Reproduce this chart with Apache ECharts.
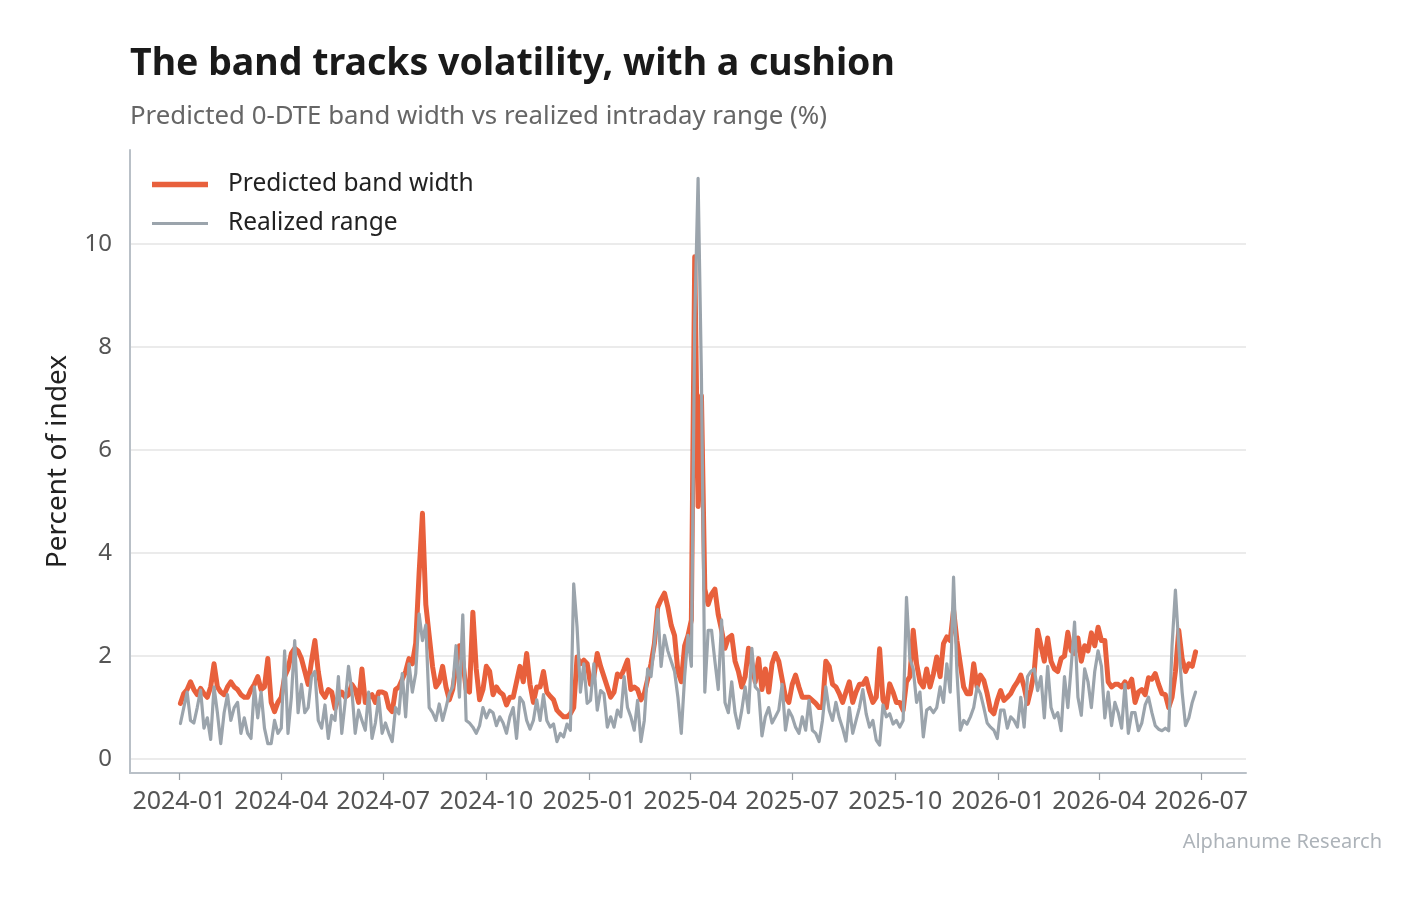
<!DOCTYPE html>
<html>
<head>
<meta charset="utf-8">
<title>Band width vs realized range</title>
<script src="https://cdn.jsdelivr.net/npm/echarts@6/dist/echarts.min.js"></script>
<style>
  html, body { margin: 0; background: #fff; }
  #chart { width: 1427px; height: 898px; }
</style>
</head>
<body>
<div id="chart"></div>
<script>
  // one reading every 3 calendar days, from the first session of 2024
  const startDate = "2024-01-02";
  const stepDays = 3;

  // predicted 0-DTE band width, % of index
  const predicted = [
    1.08, 1.27, 1.35, 1.5, 1.35, 1.25, 1.37, 1.27, 1.2, 1.4,
    1.85, 1.4, 1.3, 1.25, 1.4, 1.5, 1.4, 1.35, 1.25, 1.2,
    1.2, 1.35, 1.45, 1.6, 1.35, 1.4, 1.95, 1.1, 0.92, 1.1,
    1.2, 1.6, 1.75, 2.05, 2.15, 2.1, 1.95, 1.7, 1.45, 1.9,
    2.3, 1.7, 1.3, 1.2, 1.35, 1.3, 0.98, 1.2, 1.3, 1.2,
    1.25,
    1.45, 1.35, 1.1, 1.75, 1.1, 1.2, 1.25, 1.1, 1.3, 1.3,
    1.27, 1.0, 0.92, 1.35, 1.4, 1.55, 1.7, 1.95, 1.85, 2.25,
    3.6, 4.77, 3.0, 2.4, 1.8, 1.4, 1.5, 1.8, 1.4, 1.15,
    1.35, 1.8, 2.2, 1.9, 1.35, 1.3, 2.85, 1.75, 1.15, 1.35,
    1.8, 1.7, 1.25, 1.4, 1.3, 1.25, 1.05, 1.2, 1.2, 1.5,
    1.8, 1.5, 2.05, 1.45, 1.1, 1.4, 1.4, 1.7, 1.3, 1.22,
    1.15, 0.95, 0.88, 0.82, 0.82, 0.88, 1.0, 1.98, 1.85, 1.92,
    1.85, 1.45, 1.6, 2.05, 1.8, 1.6, 1.4, 1.2, 1.3, 1.65,
    1.6, 1.75, 1.92, 1.35, 1.4, 1.35, 1.15, 1.27, 1.55, 1.85,
    2.24, 2.95, 3.1, 3.22, 2.95, 2.6, 2.4, 1.7, 1.5, 2.2,
    2.4,
    2.7, 9.75, 4.9, 7.05, 3.3, 3.0, 3.2, 3.3, 2.8, 2.5,
    2.15, 2.35, 2.4, 1.9, 1.7, 1.4, 1.6, 2.15, 1.85, 1.5,
    1.95, 1.35, 1.75, 1.3, 1.85, 2.05, 1.9, 1.55, 1.2, 1.1,
    1.45, 1.63, 1.4, 1.2, 1.2, 1.2, 1.14, 1.08, 1.0, 1.0,
    1.9, 1.8, 1.45, 1.4, 1.27, 1.1, 1.3, 1.5, 1.1, 1.3,
    1.45,
    1.45, 1.56, 1.3, 1.1, 1.2, 2.14, 1.15, 1.0, 1.46, 1.3,
    1.1, 1.1, 0.95, 1.5, 1.6, 2.5, 1.85, 1.5, 1.4, 1.75,
    1.4, 1.65, 1.98, 1.6, 2.24, 2.37, 2.3, 2.9, 2.3, 1.85,
    1.4, 1.27, 1.27, 1.85, 1.4, 1.63, 1.53, 1.27, 0.95, 0.88,
    1.14, 1.33, 1.14, 1.2, 1.27, 1.4, 1.5, 1.63, 1.4, 1.08,
    1.35, 1.7, 2.5, 2.2, 1.9, 2.35, 1.9, 1.75, 1.7, 1.95,
    2.0, 2.46, 2.1, 2.05, 2.35, 1.9, 2.2, 2.1, 2.45, 2.2,
    2.56, 2.3, 2.3, 1.5, 1.4, 1.45, 1.45, 1.4, 1.5, 1.4,
    1.55, 1.1, 1.3, 1.35, 1.25, 1.58, 1.55, 1.66, 1.45, 1.27,
    1.25, 1.0, 1.2, 1.7, 2.5, 1.95, 1.7, 1.85, 1.8, 2.08
  ];

  // realized intraday range, % of index
  const realized = [
    0.69, 1.0, 1.3, 0.75, 0.7, 1.0, 1.34, 0.6, 0.8, 0.38,
    1.4, 0.9, 0.3, 0.9, 1.25, 0.75, 1.0, 1.1, 0.5, 0.8,
    0.5, 0.4, 1.4, 0.8, 1.3, 0.6, 0.3, 0.3, 0.75, 0.5,
    0.6, 2.1, 0.5, 1.2, 2.3, 0.9, 1.45, 0.9, 1.0, 1.6,
    1.7, 0.75, 0.6, 1.05, 0.4, 0.85, 0.75, 1.6, 0.5, 1.1,
    1.8,
    1.33, 0.5, 0.95, 0.75, 0.56, 1.3, 0.4, 0.7, 1.2, 0.5,
    0.7, 0.5, 0.34, 1.0, 0.88, 1.66, 0.82, 1.85, 1.3, 1.66,
    2.82, 2.3, 2.6, 1.0, 0.9, 0.75, 1.07, 0.75, 1.0, 1.27,
    1.4, 2.2, 1.2, 2.8, 0.75, 0.7, 0.62, 0.5, 0.65, 1.0,
    0.8, 0.95, 0.9, 0.65, 0.82, 0.7, 0.5, 0.82, 1.0, 0.4,
    1.2, 1.1, 0.75, 0.58, 0.75, 1.15, 0.75, 1.25, 0.75, 0.62,
    0.68, 0.34, 0.5, 0.43, 0.68, 0.56, 3.4, 2.56, 1.3, 1.85,
    1.08, 1.14, 1.85, 0.95, 1.33, 1.27, 0.62, 0.82, 0.62, 0.95,
    0.82, 1.6, 1.0, 0.82, 0.56, 1.14, 0.34, 0.75, 1.75, 1.6,
    2.24, 2.9, 1.8, 2.4, 2.1, 1.9, 1.7, 1.2, 0.5, 1.6,
    2.4,
    1.8, 8.47, 11.27, 7.4, 1.3, 2.5, 2.5, 1.9, 1.35, 2.7,
    1.1, 0.9, 1.5, 0.9, 0.6, 0.95, 1.4, 0.9, 2.15, 1.4,
    1.33, 0.45, 0.82, 1.0, 0.7, 0.82, 0.95, 1.45, 0.56, 0.95,
    0.82, 0.62, 0.5, 0.82, 0.56, 1.14, 0.56, 0.5, 0.34, 0.75,
    1.4, 0.95, 0.75, 1.1, 0.8, 0.6, 0.35, 1.0, 0.5, 0.75,
    1.0,
    1.35, 0.88, 0.62, 0.75, 0.37, 0.27, 1.05, 0.82, 0.88, 0.68,
    0.75, 0.62, 0.75, 3.14, 1.95, 1.75, 1.1, 1.3, 0.43, 0.95,
    1.0, 0.9, 1.0, 1.4, 1.1, 1.85, 1.3, 3.53, 1.7, 0.56,
    0.75, 0.68, 0.82, 1.0, 1.4, 1.27, 1.0, 0.7, 0.62, 0.56,
    0.4, 0.95, 0.95, 0.6, 0.82, 0.75, 0.62, 1.2, 0.62, 1.6,
    1.7, 1.75, 1.33, 1.6, 0.8, 1.8, 1.0, 0.8, 0.9, 0.55,
    1.6, 1.0, 1.8, 2.66, 1.2, 0.85, 1.75, 1.5, 1.0, 1.7,
    2.1, 1.8, 0.8, 1.3, 0.65, 1.1, 0.9, 0.6, 1.45, 0.5,
    0.9, 0.9, 0.55, 0.7, 1.05, 1.2, 0.9, 0.65, 0.58, 0.55,
    0.6, 0.55, 2.2, 3.28, 2.2, 1.3, 0.65, 0.8, 1.1, 1.3
  ];

  const xTickLabels = [
    "2024-01", "2024-04", "2024-07", "2024-10", "2025-01", "2025-04",
    "2025-07", "2025-10", "2026-01", "2026-04", "2026-07"
  ];
  const yTicks = [0, 2, 4, 6, 8, 10];

  const DAY = 86400000;
  const font = "Noto Sans";
  const t0 = Date.parse(startDate + "T00:00:00Z");
  const dates = predicted.map((_, i) => t0 + i * stepDays * DAY);
  // x is a plain value axis in UTC milliseconds, so ticks can sit on month starts
  const xTicks = xTickLabels.map((s) => Date.parse(s + "-01T00:00:00Z"));
  const pad2 = (n) => (n < 10 ? "0" + n : "" + n);

  const chart = echarts.init(document.getElementById("chart"));

  const option = {
    animation: false,
    backgroundColor: "#ffffff",
    title: {
      text: "The band tracks volatility, with a cushion",
      subtext: "Predicted 0-DTE band width vs realized intraday range (%)",
      left: 125,
      top: 40,
      itemGap: 21,
      textStyle: {
        fontFamily: font,
        fontSize: 37.5,
        fontWeight: "bold",
        color: "#1a1a1a",
      },
      subtextStyle: {
        fontFamily: font,
        fontSize: 25.8,
        color: "#666666",
      },
    },
    legend: {
      orient: "vertical",
      left: 147,
      top: 167,
      itemWidth: 56,
      itemHeight: 14,
      itemGap: 14,
      textStyle: {
        fontFamily: font,
        fontSize: 24.5,
        color: "#222222",
        padding: [0, 0, 0, 15],
      },
      data: [
        { name: "Predicted band width", icon: "path://M0,0 L56,0 L56,5.5 L0,5.5 Z" },
        { name: "Realized range", icon: "path://M0,0 L56,0 L56,3.2 L0,3.2 Z" },
      ],
    },
    grid: {
      left: 130,
      right: 181,
      top: 150,
      bottom: 125,
    },
    xAxis: {
      type: "value",
      min: Date.parse("2023-11-18T00:00:00Z"),
      max: Date.parse("2026-08-10T00:00:00Z"),
      axisLine: { onZero: false, lineStyle: { color: "#b9c0c7", width: 2 } },
      axisTick: {
        show: true,
        length: 7,
        customValues: xTicks,
        lineStyle: { color: "#9aa0a6", width: 1.2 },
      },
      axisLabel: {
        customValues: xTicks,
        margin: 16,
        fontFamily: font,
        fontSize: 25,
        color: "#555555",
        formatter: (v) => {
          const d = new Date(v);
          return d.getUTCFullYear() + "-" + pad2(d.getUTCMonth() + 1);
        },
      },
      splitLine: { show: false },
    },
    yAxis: {
      type: "value",
      min: -0.27,
      max: 11.82,
      name: "Percent of index",
      nameLocation: "middle",
      nameGap: 58,
      nameTextStyle: { fontFamily: font, fontSize: 28, color: "#222222" },
      axisLine: { show: true, onZero: false, lineStyle: { color: "#b9c0c7", width: 2 } },
      axisTick: { show: false, customValues: yTicks },
      axisLabel: {
        customValues: yTicks,
        margin: 18,
        fontFamily: font,
        fontSize: 24,
        color: "#555555",
      },
      splitLine: { show: true, lineStyle: { color: "#e4e4e4", width: 1.5 } },
    },
    series: [
      {
        name: "Predicted band width",
        type: "line",
        data: dates.map((t, i) => [t, predicted[i]]),
        symbol: "none",
        sampling: false,
        z: 2,
        color: "#e8603c",
        lineStyle: { width: 5, color: "#e8603c", join: "round", cap: "round" },
      },
      {
        name: "Realized range",
        type: "line",
        data: dates.map((t, i) => [t, realized[i]]),
        symbol: "none",
        sampling: false,
        z: 3,
        color: "#9ba4ac",
        lineStyle: { width: 3.2, color: "#9ba4ac", join: "round", cap: "round" },
      },
    ],
    graphic: [
      {
        type: "text",
        right: 45,
        top: 832,
        style: {
          text: "Alphanume Research",
          fontFamily: font,
          fontSize: 20,
          fill: "#adb3b9",
        },
      },
    ],
  };

  chart.setOption(option);
</script>
</body>
</html>
